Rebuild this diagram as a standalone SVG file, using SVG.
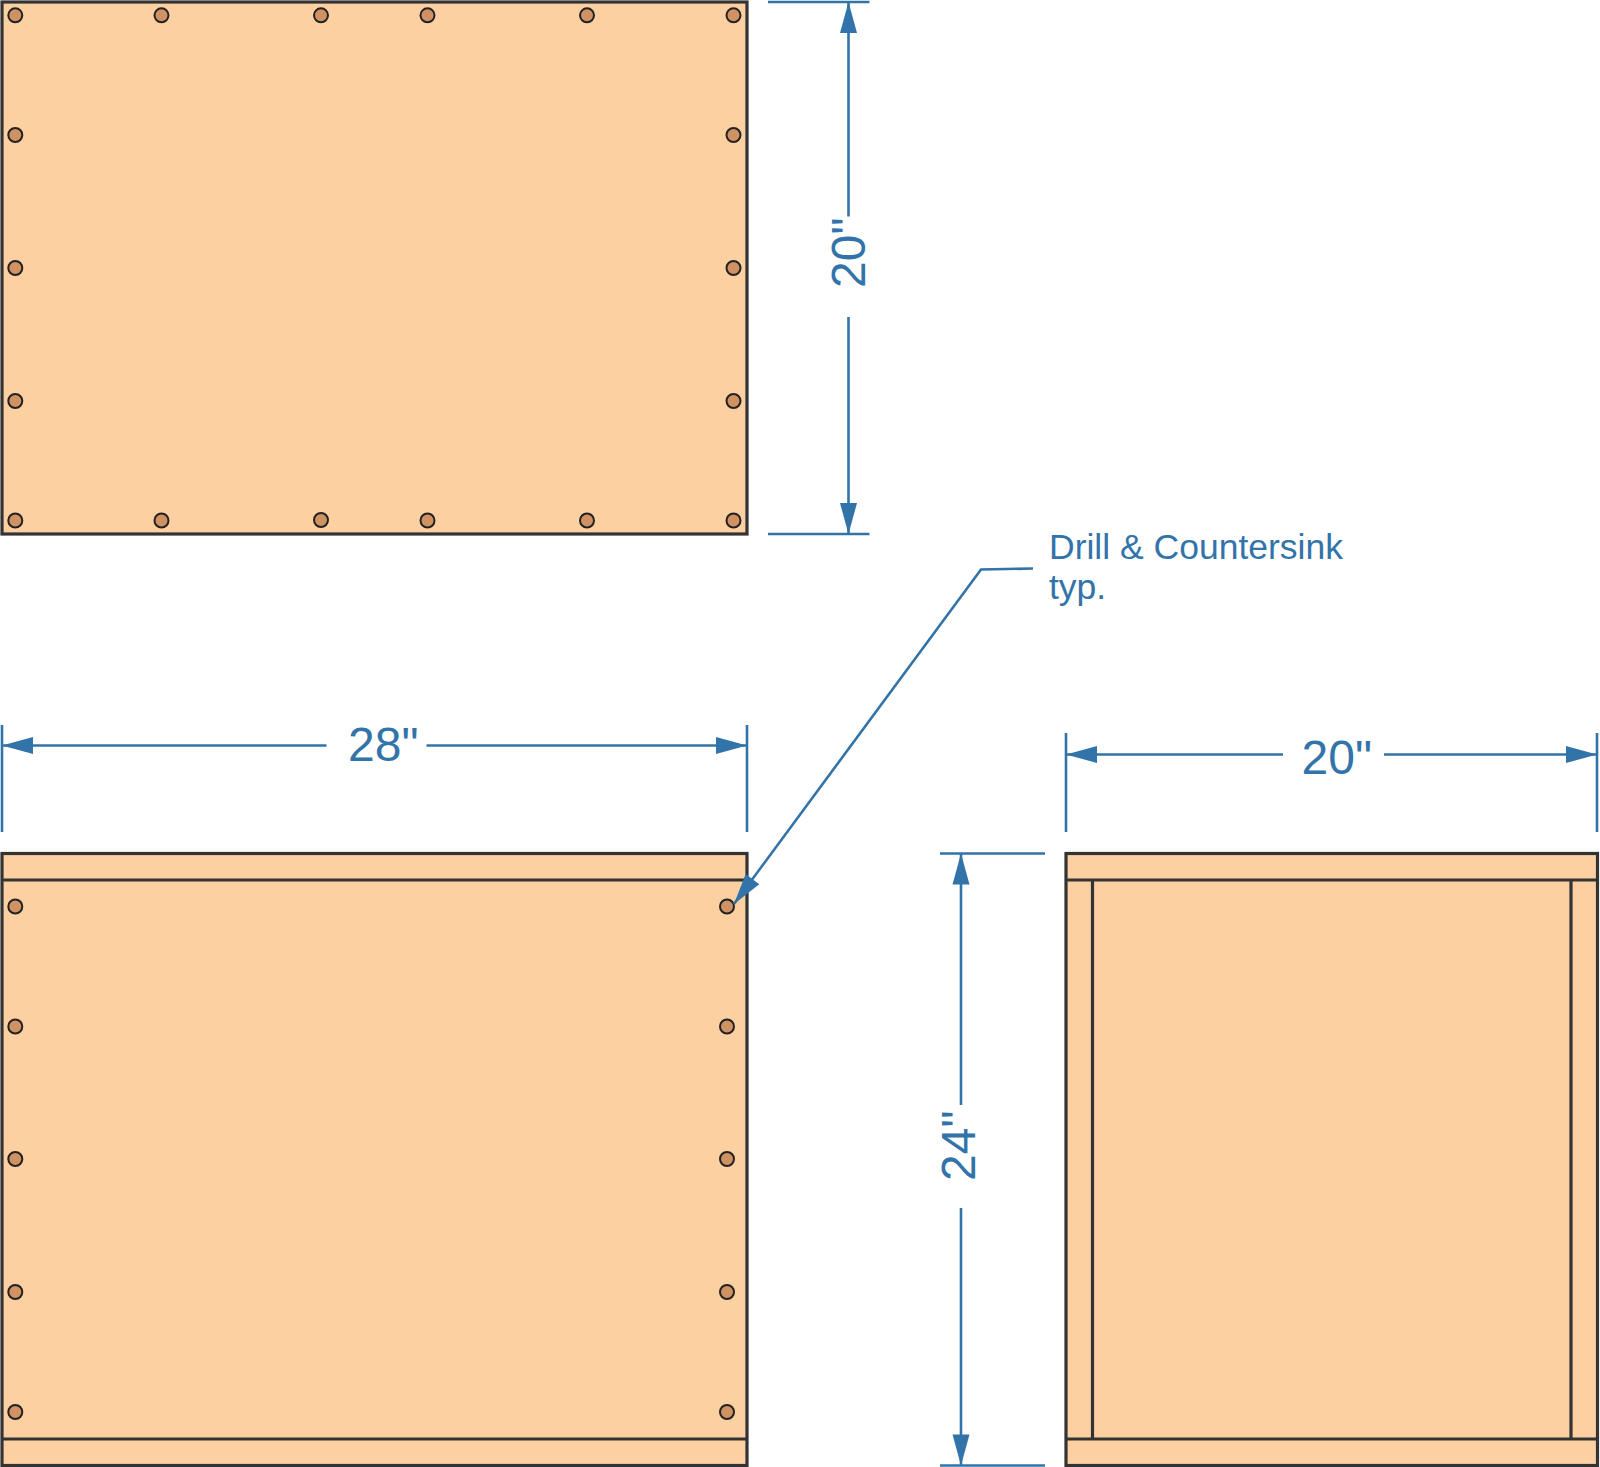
<svg xmlns="http://www.w3.org/2000/svg" width="1600" height="1467" viewBox="0 0 1600 1467">
<style>
.p{fill:#fdd0a2;stroke:#333;stroke-width:3.2}
.l{fill:none;stroke:#333;stroke-width:3.2}
.h{fill:#d09163;stroke:#222;stroke-width:2}
.d{fill:none;stroke:#3274a9;stroke-width:2.6}
.a{fill:#3274a9;stroke:none}
.t{font-family:"Liberation Sans",Arial,sans-serif;fill:#3274a9}
.b{font-size:48px}
.s{font-size:35.5px}
</style>
<defs>
<circle id="hole" r="7" class="h"/>
<polygon id="arr" class="a" points="0,0 -31,-8.500 -31,8.500"/>
</defs>
<g id="panel-top">
<rect class="p" x="2" y="2" width="745" height="532"/>
<use href="#hole" x="15.300" y="15.300"/><use href="#hole" x="161.500" y="15.300"/><use href="#hole" x="321" y="15.300"/><use href="#hole" x="427.500" y="15.300"/><use href="#hole" x="587" y="15.300"/><use href="#hole" x="733.500" y="15.300"/>
<use href="#hole" x="15.300" y="135"/><use href="#hole" x="733.500" y="135"/>
<use href="#hole" x="15.300" y="268"/><use href="#hole" x="733.500" y="268"/>
<use href="#hole" x="15.300" y="401"/><use href="#hole" x="733.500" y="401"/>
<use href="#hole" x="15.300" y="520.500"/><use href="#hole" x="161.500" y="520.500"/><use href="#hole" x="321" y="520"/><use href="#hole" x="427.500" y="520.500"/><use href="#hole" x="587" y="520.500"/><use href="#hole" x="733.500" y="520.500"/>
</g>
<g id="panel-front">
<rect class="p" x="2" y="853.500" width="745" height="612"/>
<path class="l" d="M2 880H747M2 1439H747"/>
<use href="#hole" x="15.300" y="906.500"/><use href="#hole" x="727" y="906.500"/>
<use href="#hole" x="15.300" y="1026.500"/><use href="#hole" x="727" y="1026.500"/>
<use href="#hole" x="15.300" y="1159"/><use href="#hole" x="727" y="1159"/>
<use href="#hole" x="15.300" y="1292"/><use href="#hole" x="727" y="1292"/>
<use href="#hole" x="15.300" y="1412"/><use href="#hole" x="727" y="1412"/>
</g>
<g id="panel-side">
<rect class="p" x="1066" y="853.500" width="531.500" height="612"/>
<path class="l" d="M1066 880H1597.500M1066 1439H1597.500M1092.500 880V1439M1571 880V1439"/>
</g>
<g id="connectors">
<path class="d" d="M768 2H869.500M768 534H869.500M848.500 2V216.500M848.500 317V534"/>
<use href="#arr" transform="translate(848.500,2) rotate(-90)"/>
<use href="#arr" transform="translate(848.500,534) rotate(90)"/>
<path class="d" d="M2 725V832M747 725V832M2 745.500H326.500M426.500 745.500H747"/>
<use href="#arr" transform="translate(2,745.500) rotate(180)"/>
<use href="#arr" transform="translate(747,745.500)"/>
<path class="d" d="M1066 733V832M1597 733V832M1066 754.500H1283M1384 754.500H1597"/>
<use href="#arr" transform="translate(1066,754.500) rotate(180)"/>
<use href="#arr" transform="translate(1597,754.500)"/>
<path class="d" d="M940 853.500H1045M940 1465.500H1045M961 853.500V1105M961 1208V1465.500"/>
<use href="#arr" transform="translate(961,853.500) rotate(-90)"/>
<use href="#arr" transform="translate(961,1465.500) rotate(90)"/>
<path class="d" d="M1033 568.500L981 569.500L734 904"/>
<use href="#arr" transform="translate(734,904) rotate(126.500)"/>
</g>
<g id="labels">
<text class="t b" transform="translate(865,288) rotate(-90)">20"</text>
<text class="t b" x="348" y="761">28"</text>
<text class="t b" x="1301.500" y="774">20"</text>
<text class="t b" transform="translate(975,1181) rotate(-90)">24"</text>
<text class="t s" x="1049" y="558.500">Drill &amp; Countersink</text>
<text class="t s" x="1049" y="599">typ.</text>
</g>
</svg>
